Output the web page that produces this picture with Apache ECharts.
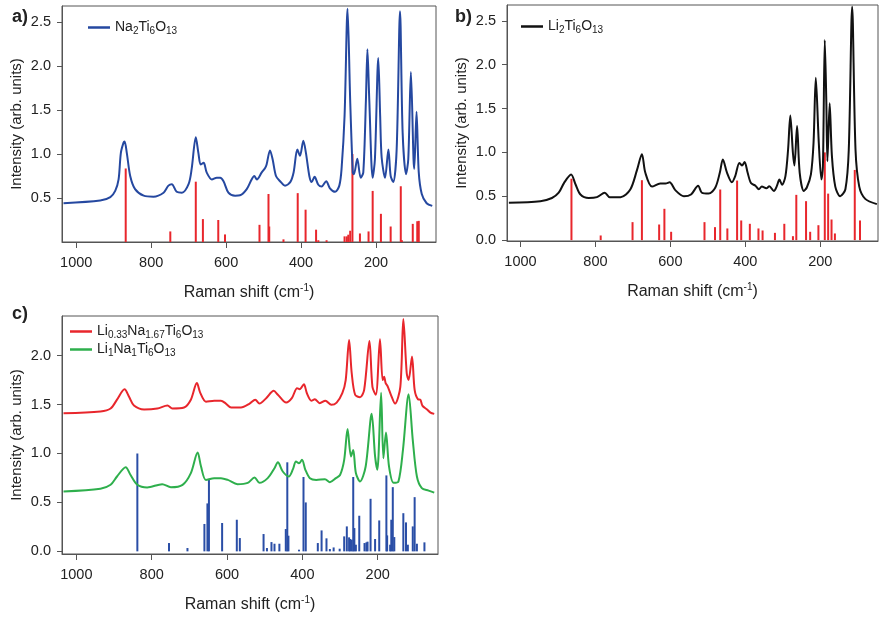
<!DOCTYPE html>
<html>
<head>
<meta charset="utf-8">
<script src="https://cdn.jsdelivr.net/npm/echarts@6/dist/echarts.min.js"></script>
<style>
  html, body { margin: 0; padding: 0; background: #fff; }
  #chart { width: 879px; height: 617px; }
</style>
</head>
<body>
<div id="chart"></div>
<script>
// tick labels
var xTicks = [200, 400, 600, 800, 1000];
var yTicksA = [0.5, 1.0, 1.5, 2.0, 2.5];
var yTicksB = [0.0, 0.5, 1.0, 1.5, 2.0, 2.5];
var yTicksC = [0.0, 0.5, 1.0, 1.5, 2.0];

// a) Na2Ti6O13 spectrum, [shift, intensity]
var naCurve = [
  [1034,0.44],[936,0.47],[909,0.51],[896,0.58],[887,0.71],[881,1.01],[874,1.125],[871,1.14],
  [865,1.01],[856,0.75],[843,0.60],[820,0.526],[794,0.515],[767,0.56],[754,0.64],[745,0.657],
  [732,0.57],[718,0.56],[700,0.66],[692,0.83],[681,1.19],[674,1.01],[668,0.88],[660,0.90],
  [652,0.79],[638,0.71],[625,0.73],[616,0.73],[607,0.69],[594,0.56],[576,0.526],[563,0.53],
  [545,0.60],[532,0.71],[525,0.75],[518,0.71],[505,0.79],[496,0.84],[492,0.88],[483,1.04],
  [476,0.94],[467,0.75],[456,0.69],[443,0.64],[429,0.68],[420,0.79],[410,1.05],[403,0.98],
  [394,1.15],[387,1.01],[378,0.75],[372,0.68],[364,0.74],[354,0.65],[345,0.63],[333,0.69],
  [323,0.61],[309,0.57],[298,0.64],[292,0.83],[284,1.43],[276,2.65],[269,1.61],[262,0.79],
  [259,0.77],[250,0.945],[241,0.73],[234,0.79],[227,1.61],[223,2.19],[218,1.61],[209,0.73],
  [203,0.94],[194,2.09],[189,1.43],[185,0.96],[176,0.73],[167,1.05],[161,0.75],[154,0.68],
  [145,1.05],[136,2.62],[129,1.24],[120,0.77],[114,0.94],[107,1.93],[100,0.94],[98,0.83],
  [92,1.48],[86,0.79],[78,0.545],[65,0.44],[50,0.41]
];
var naSticks = [
  [868,0.835],[749,0.12],[681,0.685],[662,0.26],[621,0.25],[603,0.086],[511,0.195],[487,0.545],
  [485,0.176],[447,0.03],[409,0.555],[388,0.367],[360,0.14],[354,0.02],[332,0.02],[284,0.064],
  [278,0.064],[274,0.083],[269,0.128],[263,1.0],[243,0.097],[220,0.12],[209,0.58],[187,0.32],
  [161,0.176],[134,0.633],[131,0.02],[102,0.206],[90,0.236],[86,0.24]
];

// b) Li2Ti6O13 spectrum
var liCurve = [
  [1031,0.425],[947,0.444],[916,0.48],[898,0.54],[884,0.65],[865,0.747],[853,0.634],[840,0.52],
  [818,0.48],[796,0.49],[775,0.54],[762,0.49],[733,0.49],[707,0.577],[689,0.80],[676,0.98],
  [667,0.77],[649,0.61],[627,0.645],[613,0.645],[602,0.66],[587,0.57],[564,0.50],[545,0.52],
  [526,0.62],[516,0.54],[498,0.53],[480,0.60],[468,0.77],[460,0.92],[449,0.77],[436,0.66],
  [427,0.73],[416,0.88],[409,0.85],[402,0.89],[394,0.77],[385,0.65],[373,0.62],[364,0.58],
  [356,0.61],[344,0.59],[336,0.615],[324,0.56],[316,0.615],[309,0.69],[302,0.63],[293,0.73],
  [286,1.03],[280,1.42],[273,0.99],[269,0.85],[262,1.30],[255,0.77],[244,0.56],[236,0.60],
  [225,0.75],[218,1.11],[212,1.85],[204,1.11],[197,0.69],[193,0.84],[188,2.28],[184,1.60],
  [181,0.90],[175,1.56],[169,0.96],[160,0.61],[147,0.50],[133,0.58],[124,1.03],[115,2.66],
  [106,1.03],[96,0.61],[80,0.47],[49,0.41]
];
var liSticks = [
  [864,0.70],[786,0.053],[701,0.205],[676,0.683],[630,0.178],[616,0.357],[598,0.095],[509,0.205],
  [481,0.148],[467,0.577],[448,0.133],[422,0.679],[411,0.224],[388,0.186],[365,0.133],[354,0.11],
  [321,0.083],[296,0.186],[273,0.045],[264,0.516],[238,0.444],[227,0.095],[205,0.17],[188,1.0],
  [179,0.53],[170,0.235],[161,0.076],[108,0.80],[94,0.224]
];

// c) mixed compositions
var mixRedCurve = [
  [1034,1.41],[936,1.43],[909,1.46],[892,1.55],[872,1.656],[860,1.58],[847,1.49],[820,1.45],
  [785,1.46],[758,1.49],[745,1.46],[714,1.47],[696,1.55],[680,1.72],[671,1.62],[656,1.53],
  [634,1.54],[616,1.54],[603,1.51],[589,1.47],[563,1.47],[540,1.51],[525,1.55],[514,1.51],
  [496,1.565],[476,1.64],[465,1.60],[443,1.52],[428,1.565],[414,1.667],[407,1.656],[396,1.707],
  [388,1.616],[376,1.54],[367,1.554],[354,1.514],[339,1.54],[323,1.497],[309,1.52],[294,1.616],
  [285,1.75],[276,2.16],[269,1.82],[260,1.60],[247,1.575],[236,1.65],[222,2.15],[214,1.68],
  [205,1.60],[194,2.167],[187,1.75],[183,1.785],[179,1.72],[174,1.69],[165,1.60],[154,1.51],
  [140,1.68],[132,2.374],[123,1.82],[118,1.75],[109,1.99],[102,1.65],[93,1.554],[87,1.55],
  [81,1.486],[69,1.45],[60,1.418],[50,1.405]
];
var mixGreenCurve = [
  [1034,0.612],[936,0.64],[909,0.68],[892,0.765],[869,0.86],[856,0.78],[838,0.68],[812,0.653],
  [772,0.687],[749,0.656],[718,0.68],[696,0.80],[678,1.01],[669,0.867],[656,0.73],[634,0.748],
  [616,0.748],[598,0.73],[572,0.687],[545,0.70],[527,0.755],[514,0.70],[492,0.748],[474,0.85],
  [465,0.91],[452,0.816],[436,0.765],[425,0.84],[417,0.918],[409,0.90],[401,0.935],[392,0.833],
  [380,0.748],[363,0.73],[340,0.738],[327,0.707],[311,0.748],[300,0.78],[289,0.935],[280,1.25],
  [271,0.97],[265,1.037],[258,0.80],[247,0.714],[232,0.867],[216,1.405],[207,0.97],[201,0.833],
  [191,1.62],[185,0.952],[178,1.214],[170,0.867],[158,0.70],[145,0.714],[133,1.037],[118,1.605],
  [107,1.14],[96,0.765],[83,0.646],[65,0.62],[50,0.60]
];
var mixSticks = [
  [838,1.0],[754,0.085],[705,0.034],[660,0.28],[652,0.49],[648,0.74],[613,0.29],[574,0.323],
  [566,0.136],[503,0.177],[494,0.034],[482,0.095],[474,0.078],[461,0.078],[444,0.228],[440,0.91],
  [437,0.16],[409,0.017],[397,0.76],[391,0.50],[359,0.085],[349,0.214],[336,0.133],[327,0.024],
  [317,0.04],[301,0.027],[289,0.153],[282,0.255],[276,0.143],[273,0.126],[269,0.119],[265,0.76],
  [262,0.238],[258,0.068],[249,0.364],[235,0.085],[230,0.092],[227,0.099],[219,0.537],[207,0.126],
  [196,0.316],[177,0.776],[175,0.163],[167,0.068],[164,0.323],[160,0.656],[156,0.146],[132,0.39],
  [125,0.296],[120,0.068],[107,0.255],[102,0.554],[96,0.078],[76,0.092]
];

var legendNames = {
  'Na2Ti6O13': 'Na{s|2}Ti{s|6}O{s|13}',
  'Li2Ti6O13': 'Li{s|2}Ti{s|6}O{s|13}',
  'Li0.33Na1.67Ti6O13': 'Li{s|0.33}Na{s|1.67}Ti{s|6}O{s|13}',
  'Li1Na1Ti6O13': 'Li{s|1}Na{s|1}Ti{s|6}O{s|13}'
};

var axisColor = '#555';
var font = 'Liberation Sans, Arial, sans-serif';

function xAxisCfg(idx, min, max) {
  return {
    type: 'value', gridIndex: idx, inverse: true, min: min, max: max,
    name: 'Raman shift (cm{sup|-1})', nameLocation: 'middle', nameGap: 41,
    nameTextStyle: {
      fontSize: 16, color: '#222', fontFamily: font, lineHeight: 20,
      rich: { sup: { fontSize: 10, verticalAlign: 'top', lineHeight: 20, color: '#222' } }
    },
    splitLine: { show: false },
    axisLine: { onZero: false, lineStyle: { color: axisColor, width: 1 } },
    axisTick: { inside: false, length: 6, customValues: xTicks, lineStyle: { color: axisColor } },
    axisLabel: {
      customValues: xTicks, fontSize: 14.5, color: '#222', fontFamily: font, margin: 13,
      formatter: function (v) { return String(v); }
    }
  };
}

function yAxisCfg(idx, min, max, ticks) {
  return {
    type: 'value', gridIndex: idx, min: min, max: max,
    name: 'Intensity (arb. units)', nameLocation: 'middle', nameGap: 38,
    nameTextStyle: { fontSize: 15, color: '#222', fontFamily: font },
    splitLine: { show: false },
    axisLine: { show: true, onZero: false, lineStyle: { color: axisColor, width: 1 } },
    axisTick: { show: true, length: 5, customValues: ticks, lineStyle: { color: axisColor } },
    axisLabel: {
      customValues: ticks, fontSize: 14.5, color: '#222', fontFamily: font, margin: 11,
      formatter: function (v) { return v.toFixed(1); }
    }
  };
}

function legendCfg(names, left, top) {
  return {
    data: names, left: left, top: top, orient: 'vertical', itemGap: 1,
    icon: 'rect', itemWidth: 22, itemHeight: 2.5, padding: 0,
    formatter: function (n) { return legendNames[n]; },
    textStyle: {
      fontSize: 14, color: '#222', fontFamily: font, lineHeight: 17,
      rich: { s: { fontSize: 10, verticalAlign: 'bottom', lineHeight: 17, color: '#222' } }
    }
  };
}

function lineSeries(name, data, idx, color) {
  return {
    name: name, type: 'line', data: data, xAxisIndex: idx, yAxisIndex: idx,
    showSymbol: false, symbol: 'none', smooth: 0.3, z: 3,
    lineStyle: { color: color, width: 2 }, itemStyle: { color: color }
  };
}

function stickSeries(data, idx, color) {
  return {
    type: 'bar', data: data, xAxisIndex: idx, yAxisIndex: idx,
    barWidth: 2, z: 2, itemStyle: { color: color }, silent: true
  };
}

var chart = echarts.init(document.getElementById('chart'));
chart.setOption({
  animation: false,
  title: [
    { text: 'a)', left: 7, top: 3, textStyle: { fontSize: 18, fontWeight: 'bold', color: '#222', fontFamily: font } },
    { text: 'b)', left: 450, top: 3, textStyle: { fontSize: 18, fontWeight: 'bold', color: '#222', fontFamily: font } },
    { text: 'c)', left: 7, top: 300, textStyle: { fontSize: 18, fontWeight: 'bold', color: '#222', fontFamily: font } }
  ],
  grid: [
    { left: 62, top: 6, width: 374, height: 236, show: true, borderColor: axisColor, borderWidth: 1 },
    { left: 507, top: 5, width: 371, height: 236, show: true, borderColor: axisColor, borderWidth: 1 },
    { left: 62, top: 316, width: 376, height: 238, show: true, borderColor: axisColor, borderWidth: 1 }
  ],
  legend: [
    legendCfg(['Na2Ti6O13'], 88, 19),
    legendCfg(['Li2Ti6O13'], 521, 18),
    legendCfg(['Li0.33Na1.67Ti6O13', 'Li1Na1Ti6O13'], 70, 323)
  ],
  xAxis: [
    xAxisCfg(0, 40, 1038),
    xAxisCfg(1, 46, 1036),
    xAxisCfg(2, 40, 1038)
  ],
  yAxis: [
    yAxisCfg(0, 0, 2.68, yTicksA),
    yAxisCfg(1, -0.01, 2.68, yTicksB),
    yAxisCfg(2, -0.027, 2.405, yTicksC)
  ],
  series: [
    stickSeries(naSticks, 0, '#e8262c'),
    lineSeries('Na2Ti6O13', naCurve, 0, '#2548a0'),
    stickSeries(liSticks, 1, '#e8262c'),
    lineSeries('Li2Ti6O13', liCurve, 1, '#111111'),
    stickSeries(mixSticks, 2, '#2a4ea6'),
    lineSeries('Li0.33Na1.67Ti6O13', mixRedCurve, 2, '#e8262c'),
    lineSeries('Li1Na1Ti6O13', mixGreenCurve, 2, '#2eaf4c')
  ]
});
</script>
</body>
</html>
